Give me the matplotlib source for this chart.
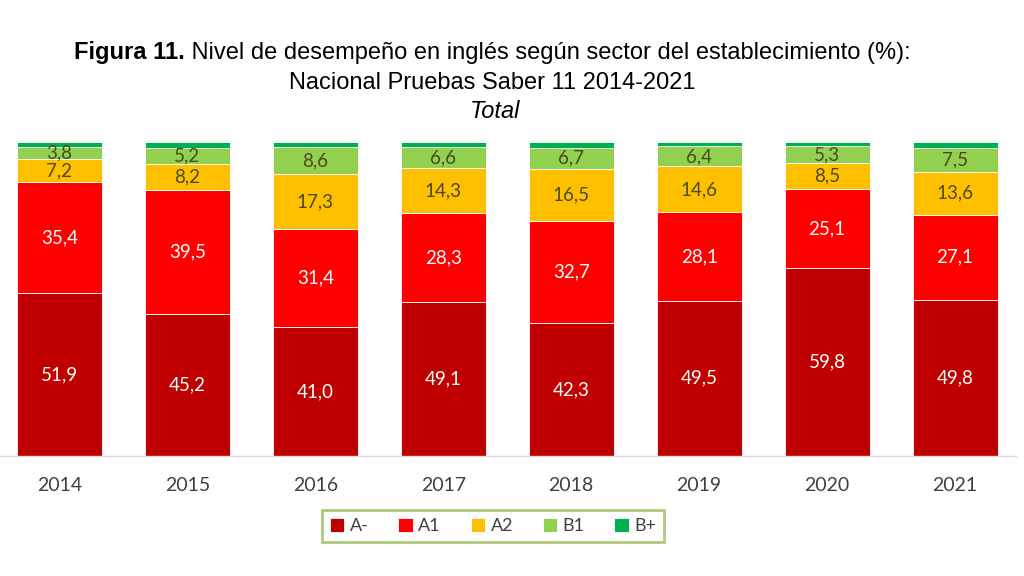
import matplotlib
matplotlib.use("Agg")
import matplotlib.pyplot as plt
import numpy as np

years = ["2014", "2015", "2016", "2017", "2018", "2019", "2020", "2021"]
a_minus = [51.9, 45.2, 41.0, 49.1, 42.3, 49.5, 59.8, 49.8]
a1 = [35.4, 39.5, 31.4, 28.3, 32.7, 28.1, 25.1, 27.1]
a2 = [7.2, 8.2, 17.3, 14.3, 16.5, 14.6, 8.5, 13.6]
b1 = [3.8, 5.2, 8.6, 6.6, 6.7, 6.4, 5.3, 7.5]
b_plus = [1.7, 1.9, 1.7, 1.7, 1.8, 1.4, 1.3, 2.0]
series_names = ["A-", "A1", "A2", "B1", "B+"]

colors = ["#C00000", "#FF0000", "#FFC000", "#92D050", "#00B050"]
label_colors = ["white", "white", "#4a4a1a", "#4a4a1a", None]
body_font = ["Lato", "DejaVu Sans"]

fig = plt.figure(figsize=(10.24, 5.76), dpi=100)
ax = fig.add_axes([0.0, 1 - 456 / 576, 0.992, (456 - 142) / 576])

x = np.arange(len(years))
bottom = np.zeros(len(years))
series = [a_minus, a1, a2, b1, b_plus]
handles = []
for vals, col, lc, name in zip(series, colors, label_colors, series_names):
    vals = np.array(vals)
    bars = ax.bar(x, vals, bottom=bottom, width=0.665, color=col, edgecolor="white",
                  linewidth=0.6, label=name)
    handles.append(bars)
    if lc is not None:
        for xi, b, v in zip(x, bottom, vals):
            ax.text(xi, b + v / 2, f"{v:.1f}".replace(".", ","), ha="center", va="center",
                    fontsize=13.5, color=lc, family=body_font)
    bottom = bottom + vals

ax.set_xlim(-0.465, len(years) - 0.525)
ax.set_ylim(0, 100)
ax.set_xticks(x)
ax.set_xticklabels(years, fontsize=14, color="#404040", family=body_font)
ax.tick_params(axis="x", length=0, pad=15)
ax.set_yticks([])
for s in ["top", "left", "right"]:
    ax.spines[s].set_visible(False)
ax.spines["bottom"].set_color("#d9d9d9")
ax.spines["bottom"].set_linewidth(1.0)

title_font = ["Liberation Sans", "DejaVu Sans"]
tsize = 17
renderer = fig.canvas.get_renderer()
bold_part = fig.text(0, 0, "Figura 11.", fontsize=tsize, fontweight="bold", family=title_font)
rest_part = fig.text(0, 0, " Nivel de desempeño en inglés según sector del establecimiento (%):",
                     fontsize=tsize, family=title_font)
wb = bold_part.get_window_extent(renderer).width
wr = rest_part.get_window_extent(renderer).width
total = wb + wr
cx = 492
left = cx - total / 2
y1 = 1 - 53 / 576
bold_part.set_position((left / 1024, y1))
bold_part.set_va("center")
rest_part.set_position(((left + wb) / 1024, y1))
rest_part.set_va("center")

fig.text(492 / 1024, 1 - 83 / 576, "Nacional Pruebas Saber 11 2014-2021", fontsize=tsize,
         ha="center", va="center", family=title_font)
fig.text(495 / 1024, 1 - 111 / 576, "Total", fontsize=tsize, style="italic",
         ha="center", va="center", family=title_font)

leg = fig.legend(handles=handles, labels=series_names, loc="center",
                 bbox_to_anchor=(493 / 1024, 1 - 526 / 576), ncol=5, frameon=True,
                 fancybox=False, edgecolor="#9BBB59", handlelength=0.8,
                 handleheight=0.8, handletextpad=0.3, columnspacing=1.65,
                 borderpad=0.45, prop={"family": body_font, "size": 13})
leg.get_frame().set_linewidth(2)
for t in leg.get_texts():
    t.set_color("#404040")

fig.savefig("out.png", dpi=100)
